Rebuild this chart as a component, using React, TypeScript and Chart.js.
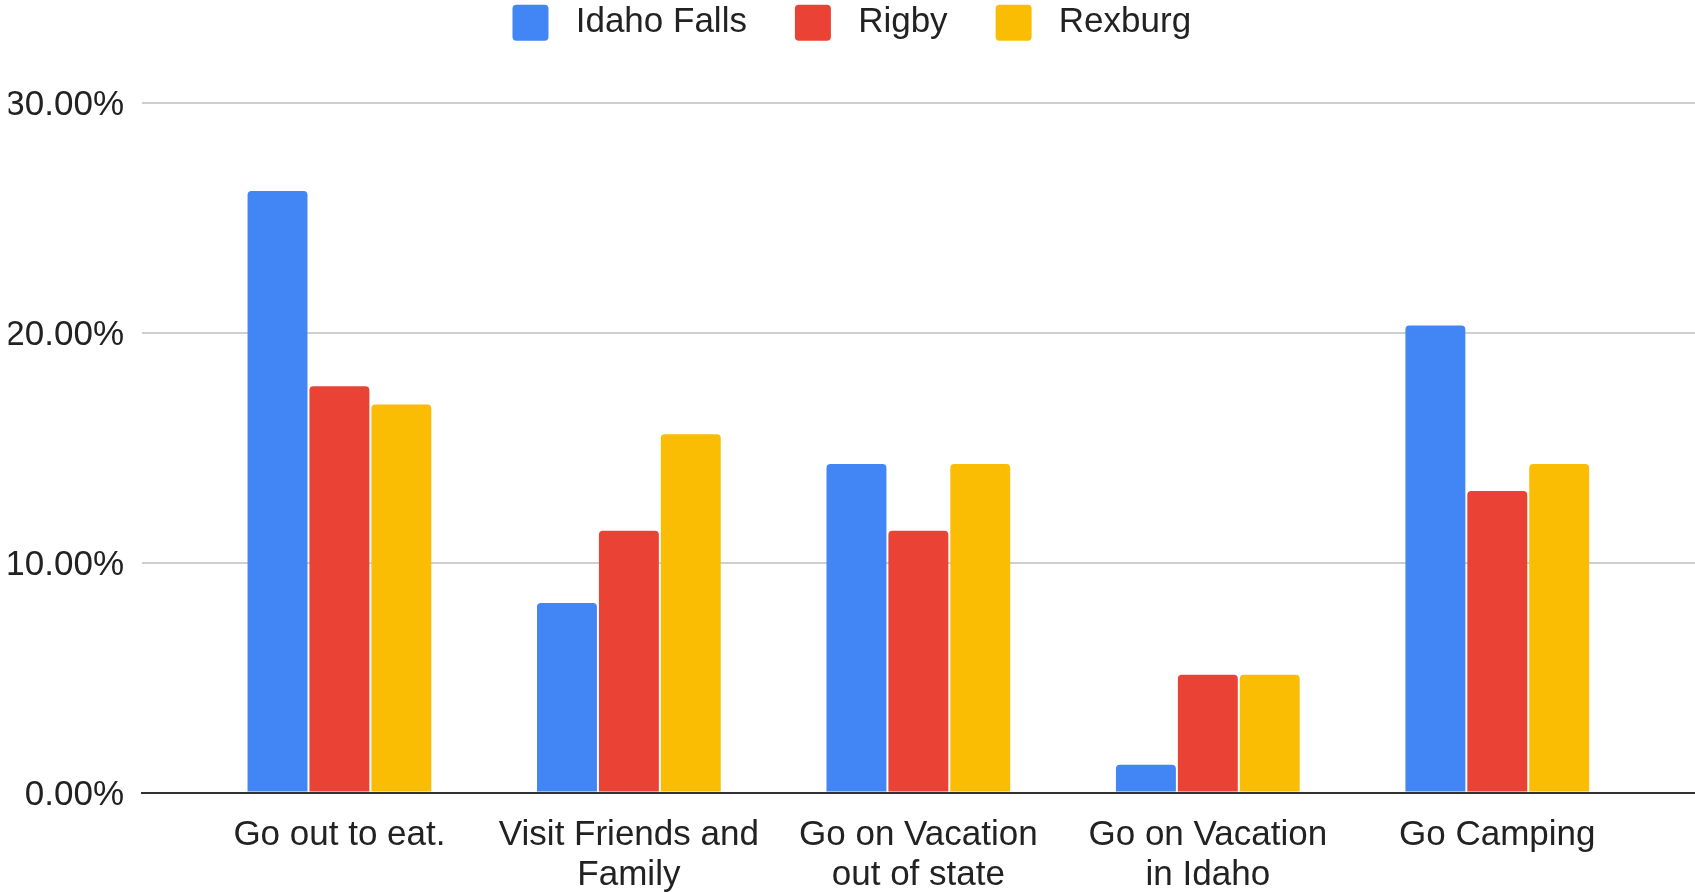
import React, { useEffect, useRef } from 'react';
import { Chart, registerables } from 'chart.js';

Chart.register(...registerables);

// ---- data ----
const categories: string[][] = [
  ['Go out to eat.'],
  ['Visit Friends and', 'Family'],
  ['Go on Vacation', 'out of state'],
  ['Go on Vacation', 'in Idaho'],
  ['Go Camping'],
];
const seriesNames = ['Idaho Falls', 'Rigby', 'Rexburg'];
const idahoFalls = [26.16, 8.25, 14.29, 1.21, 20.31];
const rigby = [17.67, 11.39, 11.39, 5.13, 13.12];
const rexburg = [16.88, 15.58, 14.29, 5.13, 14.29];
const yTicks = [0, 10, 20, 30];
const seriesColors = ['#4285F4', '#EA4335', '#FBBC04'];

const FONT = "'Liberation Sans', Arial, sans-serif";

export default function App() {
  const ref = useRef<HTMLCanvasElement | null>(null);

  useEffect(() => {
    document.body.style.margin = '0';
    const canvas = ref.current;
    if (!canvas) return;

    const seriesValues = [idahoFalls, rigby, rexburg];
    const datasets = seriesNames.map((name, s) => ({
      label: name,
      data: seriesValues[s].map((v, i) => ({ x: i, y: v })),
      backgroundColor: seriesColors[s],
      borderWidth: 0,
      borderRadius: 4,
      categoryPercentage: 0.6416,
      barPercentage: 0.968,
    }));

    const legendSpacing = {
      id: 'legendSpacing',
      beforeLayout(chart: any) {
        const lg = chart.legend;
        if (lg && !lg._patchedFit) {
          const orig = lg.fit;
          lg.fit = function () {
            orig.call(this);
            this.height += 52;
          };
          lg._patchedFit = true;
        }
      },
    };

    const chart = new Chart(canvas, {
      type: 'bar',
      data: { datasets },
      plugins: [legendSpacing],
      options: {
        animation: false,
        responsive: false,
        devicePixelRatio: 1,
        layout: { padding: { top: -43.3, left: 8.6, right: 0, bottom: 0 } },
        font: { family: FONT },
        plugins: {
          tooltip: { enabled: false },
          legend: {
            position: 'top',
            align: 'center',
            labels: {
              font: { family: FONT, size: 35 },
              color: '#222222',
              boxWidth: 36,
              boxHeight: 36,
              padding: 48,
              generateLabels: (c: any) =>
                Chart.defaults.plugins.legend.labels
                  .generateLabels(c)
                  .map((l: any) => ({ ...l, text: ' ' + l.text, borderRadius: 4, lineWidth: 0 })),
            },
          },
        },
        scales: {
          x: {
            type: 'linear',
            offset: false,
            min: -0.682,
            max: 4.683,
            afterBuildTicks: (s: any) => {
              s.ticks = categories.map((_, i) => ({ value: i }));
            },
            afterFit: (s: any) => {
              s.height = 99.4;
            },
            grid: { display: false, drawTicks: false, offset: false },
            border: { display: true, color: '#333333', width: 2, z: 1 },
            ticks: {
              autoSkip: false,
              maxRotation: 0,
              minRotation: 0,
              padding: 22,
              color: '#222222',
              font: { family: FONT, size: 35, lineHeight: 1.157 },
              callback: (v: any) => categories[Math.round(Number(v))] ?? '',
            },
          },
          y: {
            min: 0,
            max: 30,
            afterBuildTicks: (s: any) => {
              s.ticks = yTicks.map((v) => ({ value: v }));
            },
            afterFit: (s: any) => {
              s.width = 133.4;
            },
            grid: {
              drawTicks: false,
              lineWidth: 2,
              color: (ctx: any) => (ctx.tick && ctx.tick.value === 0 ? 'rgba(0,0,0,0)' : '#cfcfcf'),
            },
            border: { display: false },
            ticks: {
              padding: 18,
              labelOffset: 2.5,
              color: '#222222',
              font: { family: FONT, size: 35 },
              callback: (v: any) => Number(v).toFixed(2) + '%',
            },
          },
        },
      },
    } as any);

    return () => chart.destroy();
  }, []);

  return <canvas ref={ref} width={1695} height={892} style={{ display: 'block' }} />;
}
